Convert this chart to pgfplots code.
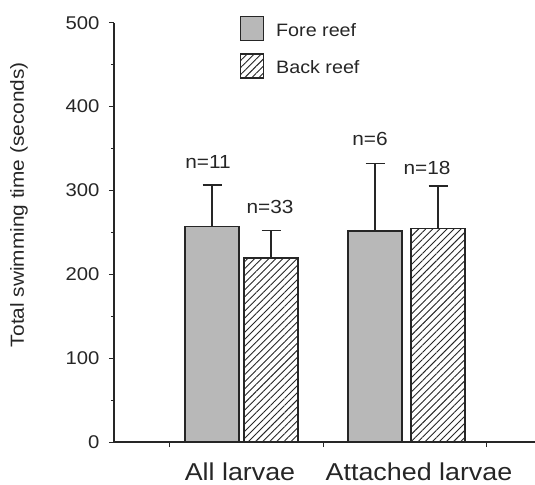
\documentclass[border=0pt]{standalone}
\usepackage{fontspec}
\setmainfont{Liberation Sans}[FakeStretch=1.1]
\usepackage{pgfplots}
\pgfplotsset{compat=1.18}
\usetikzlibrary{patterns.meta}
\definecolor{ink}{gray}{0.15}
\pgfplotstableread{
x y e
212 256.7 49.8
375 251.6 80.7
}\foretable
\pgfplotstableread{
x y e
271 219.4 32.6
438 254.8 50.5
}\backtable
\tikzset{
  forestyle/.style={fill=black!28, draw=ink, line width=1.3bp},
  backstyle/.style={draw=ink, line width=1.3bp, pattern={Lines[angle=45,distance=5bp,line width=0.9bp]}, pattern color=ink},
}
\begin{document}
\begin{tikzpicture}
\begin{axis}[
  at={(114bp,43bp)}, anchor=south west,
  scale only axis, width=421bp, height=419.3bp,
  xmin=114, xmax=535, ymin=0, ymax=500,
  axis x line=bottom, axis y line=left,
  axis line style={-, line width=1.1bp, ink},
  clip=false,
  ytick={0,100,...,500}, minor ytick={50,150,...,450},
  xtick={169,323,486}, xticklabels={},
  extra x ticks={240,419}, extra x tick labels={All larvae, Attached larvae},
  extra x tick style={major tick length=0pt, tick label style={anchor=base, yshift=-38bp, font=\fontsize{24.5}{24.5}\selectfont, text=ink}},
  tick align=outside, major tick length=5bp, minor tick length=3bp,
  tick style={line width=1bp, ink},
  yticklabel style={font=\fontsize{18.5}{18.5}\selectfont, text=ink, xshift=-6bp},
  /pgf/number format/assume math mode=true,
  ylabel={Total swimming time (seconds)},
  ylabel style={at={(axis description cs:-0.2257,0.566)}, anchor=center, font=\fontsize{19}{19}\selectfont, text=ink},
  legend image code/.code={\draw[#1] (0bp,-10bp) rectangle (23bp,14bp);},
  legend cell align=left,
  legend style={draw=none, fill=none, at={(axis description cs:0.299,1.016)}, anchor=north west,
    inner sep=0pt, outer sep=0pt, row sep=12bp, column sep=12bp,
    font=\fontsize{18}{18}\selectfont, text=ink, nodes={inner sep=0pt}},
]
\addplot[ybar, bar shift=0pt, bar width=54, forestyle, forget plot,
  error bars/.cd, y dir=plus, y explicit,
  error bar style={line width=1.1bp, ink},
  error mark options={rotate=90, mark size=9.5bp, line width=1.1bp, ink}]
  table[x=x, y=y, y error=e] {\foretable};
\addplot[ybar, bar shift=0pt, bar width=54, backstyle, forget plot,
  error bars/.cd, y dir=plus, y explicit,
  error bar style={line width=1.1bp, ink},
  error mark options={rotate=90, mark size=9.5bp, line width=1.1bp, ink}]
  table[x=x, y=y, y error=e] {\backtable};
\addlegendimage{forestyle}
\addlegendentry{Fore reef}
\addlegendimage{backstyle}
\addlegendentry{Back reef}
\node[font=\fontsize{19}{19}\selectfont, text=ink] at (axis cs:208,334) {n=11};
\node[font=\fontsize{19}{19}\selectfont, text=ink] at (axis cs:270,280.6) {n=33};
\node[font=\fontsize{19}{19}\selectfont, text=ink] at (axis cs:370,361) {n=6};
\node[font=\fontsize{19}{19}\selectfont, text=ink] at (axis cs:427,326.7) {n=18};
\end{axis}
\pgfresetboundingbox
\path[use as bounding box] (0,0) rectangle (535bp,485bp);
\end{tikzpicture}
\end{document}
